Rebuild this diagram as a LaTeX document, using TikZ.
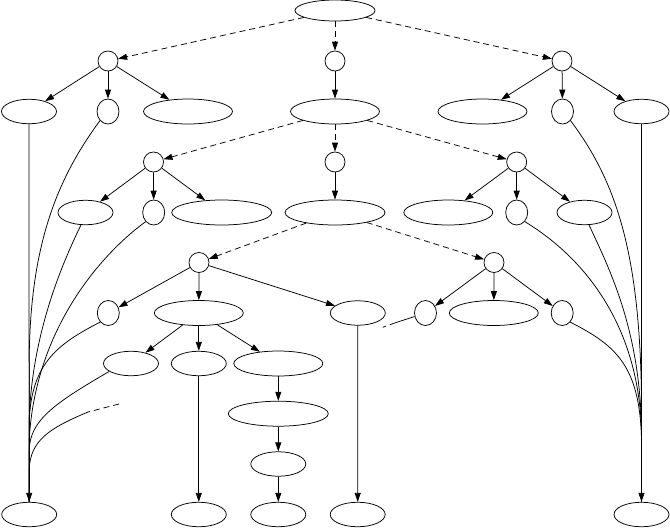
\documentclass[tikz,border=0pt]{standalone}
\usetikzlibrary{shapes.geometric,arrows.meta}
\begin{document}
\begin{tikzpicture}[x=1pt,y=-1pt,
  base/.style={draw,ellipse,inner sep=0pt,line width=0.75pt},
  rootel/.style={base,minimum width=80pt,minimum height=21pt},
  circ/.style={draw,circle,inner sep=0pt,minimum size=20pt,line width=0.75pt},
  sm/.style={base,minimum width=22pt,minimum height=25pt},
  ws/.style={base,minimum width=55pt,minimum height=24.5pt},
  wm/.style={base,minimum width=89pt,minimum height=25pt},
  wl/.style={base,minimum width=100pt,minimum height=25pt},
  edge/.style={line width=0.75pt,-{Triangle[length=9pt,width=6pt]}},
  dedge/.style={edge,dash pattern=on 6pt off 4pt},
  plain/.style={line width=0.75pt},
  dplain/.style={line width=0.75pt,dash pattern=on 6pt off 4pt}]
\useasboundingbox (0,0) rectangle (670,528);
% nodes
\node[rootel] (root) at (335,10.5) {};
\node[circ] (A) at (108,61) {};
\node[circ] (m1) at (335,61) {};
\node[circ] (C) at (562,61) {};
\node[ws] (L1) at (29,111.5) {};
\node[sm] (L2) at (108,111.5) {};
\node[wm] (L3) at (188,111.5) {};
\node[wm] (M2) at (335,111.5) {};
\node[wm] (R3) at (482.5,111.5) {};
\node[sm] (R2) at (562.5,111.5) {};
\node[ws] (R1) at (641.5,111.5) {};
\node[circ] (D) at (153.5,162) {};
\node[circ] (m2) at (335,162) {};
\node[circ] (F) at (516.7,162) {};
\node[ws] (D1) at (85.5,212.5) {};
\node[sm] (D2) at (153.7,212.5) {};
\node[wl] (D3) at (221.7,212.5) {};
\node[wl] (M3) at (335,212.5) {};
\node[wm] (F1) at (448.3,212.5) {};
\node[sm] (F2) at (516.7,212.5) {};
\node[ws] (F3) at (584.5,212.5) {};
\node[circ] (G) at (199,262.5) {};
\node[circ] (H) at (494,262.5) {};
\node[sm] (G1) at (108.3,313) {};
\node[wm] (G2) at (198.8,313) {};
\node[ws] (G3) at (357.8,313) {};
\node[sm] (H1) at (425.5,313) {};
\node[wm] (H2) at (493.8,313) {};
\node[sm] (H3) at (562.2,313) {};
\node[ws] (G2a) at (131,363.5) {};
\node[ws] (G2b) at (198.8,363.5) {};
\node[wm] (G2c) at (278.3,363.5) {};
\node[wl] (K1) at (278.3,413.7) {};
\node[ws] (K2) at (278.3,464) {};
\node[ws] (B1) at (29.2,514.5) {};
\node[ws] (B2) at (198.8,514.5) {};
\node[ws] (B3) at (278.3,514.5) {};
\node[ws] (B4) at (357.7,514.5) {};
\node[ws] (B5) at (641.5,514.5) {};
% dashed edges
\draw[dedge] (root) -- (A);
\draw[dedge] (root) -- (m1);
\draw[dedge] (root) -- (C);
\draw[dedge] (M2) -- (D);
\draw[dedge] (M2) -- (m2);
\draw[dedge] (M2) -- (F);
\draw[dedge] (M3) -- (G);
\draw[dedge] (M3) -- (H);
% solid edges
\draw[edge] (m1) -- (M2);
\draw[edge] (m2) -- (M3);
\draw[edge] (A) -- (L1);
\draw[edge] (A) -- (L2);
\draw[edge] (A) -- (L3);
\draw[edge] (C) -- (R3);
\draw[edge] (C) -- (R2);
\draw[edge] (C) -- (R1);
\draw[edge] (D) -- (D1);
\draw[edge] (D) -- (D2);
\draw[edge] (D) -- (D3);
\draw[edge] (F) -- (F1);
\draw[edge] (F) -- (F2);
\draw[edge] (F) -- (F3);
\draw[edge] (G) -- (G1);
\draw[edge] (G) -- (G2);
\draw[edge] (G) -- (G3);
\draw[edge] (H) -- (H1);
\draw[edge] (H) -- (H2);
\draw[edge] (H) -- (H3);
\draw[edge] (G2) -- (G2a);
\draw[edge] (G2) -- (G2b);
\draw[edge] (G2) -- (G2c);
\draw[edge] (G2c) -- (K1);
\draw[edge] (K1) -- (K2);
\draw[edge] (K2) -- (B3);
\draw[edge] (G2b) -- (B2);
\draw[edge] (G3) -- (B4);
% left bundle
\draw[edge] (L1) -- (B1);
\draw[plain] (L2.south west) .. controls (60,175) and (30,240) .. (29.2,360) -- (B1.north);
\draw[plain] (D1.250) .. controls (65,258) and (32,330) .. (29.2,420) -- (B1.north);
\draw[plain] (D2.south west) .. controls (100,255) and (35,330) .. (29.2,440) -- (B1.north);
\draw[plain] (G1.south west) .. controls (55,345) and (32,365) .. (29.2,420) -- (B1.north);
\draw[plain] (G2a.200) .. controls (55,403) and (30,420) .. (29.2,450) -- (B1.north);
\coordinate (hA) at (395.5,322.7);
\coordinate (hB) at (382.7,327.3);
\coordinate (hC) at (119,404);
\coordinate (hD) at (88,412);
\draw[plain] (H1) -- (hA);
\draw[dplain] (hA) -- (hB);
\draw[dplain] (hC) -- (hD);
\draw[plain] (hD) .. controls (50,428) and (30,440) .. (29.2,470) -- (B1.north);
% right bundle
\draw[edge] (R1) -- (B5);
\draw[plain] (R2.south east) .. controls (615,180) and (640,250) .. (641.5,400) -- (B5.north);
\draw[plain] (F2.south east) .. controls (580,255) and (638,320) .. (641.5,430) -- (B5.north);
\draw[plain] (F3.290) .. controls (610,270) and (640,330) .. (641.5,430) -- (B5.north);
\draw[plain] (H3.south east) .. controls (615,345) and (640,365) .. (641.5,440) -- (B5.north);
\end{tikzpicture}
\end{document}
